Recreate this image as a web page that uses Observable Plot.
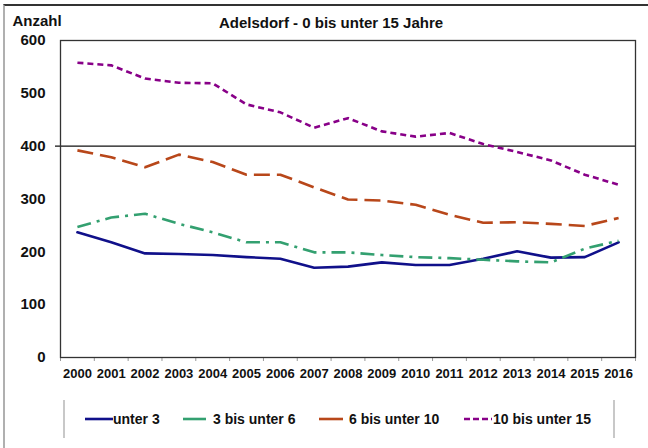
<!DOCTYPE html>
<html>
<head>
<meta charset="utf-8">
<script src="https://cdn.jsdelivr.net/npm/d3@7"></script>
<script src="https://cdn.jsdelivr.net/npm/@observablehq/plot@0.6"></script>
<style>
  html, body { margin: 0; padding: 0; background: #fff; }
  body { font-family: "Liberation Sans", Arial, sans-serif; }
  #wrap { position: relative; width: 648px; height: 448px; overflow: hidden; }
  #border { position: absolute; left: 3px; top: 4px; right: -4px; bottom: -4px;
            border-top: 2px solid #333; border-left: 2px solid #b0b0b0; }
  #chart { position: absolute; left: 0; top: 0; }
  #legend { position: absolute; left: 0; top: 385px; width: 648px; height: 63px;
            font-size: 14px; font-weight: bold; color: #111; }
  .vline { position: absolute; top: 15px; width: 2px; height: 38px; background: #c8c8c8; }
  .item { position: absolute; top: 25px; height: 18px; display: flex; align-items: center; white-space: nowrap; }
  .item svg { display: block; }
</style>
</head>
<body>
<div id="wrap">
  <div id="border"></div>
  <div id="chart"></div>
  <div id="legend"></div>
</div>
<script>
// ---- data ----
const years = [2000, 2001, 2002, 2003, 2004, 2005, 2006, 2007, 2008, 2009, 2010, 2011, 2012, 2013, 2014, 2015, 2016];
const unter3      = [237, 218, 197, 196, 194, 190, 187, 170, 172, 180, 175, 175, 187, 201, 189, 190, 218];
const bis6        = [247, 265, 272, 253, 237, 218, 218, 199, 199, 194, 190, 188, 185, 182, 180, 206, 221];
const bis10       = [392, 379, 360, 384, 370, 346, 346, 322, 299, 297, 289, 270, 255, 256, 253, 249, 264];
const bis15       = [558, 553, 528, 520, 519, 479, 464, 435, 453, 428, 418, 425, 404, 389, 373, 346, 327];
const seriesNames = ["unter 3", "3 bis unter 6", "6 bis unter 10", "10 bis unter 15"];
const seriesColors = ["#10108a", "#33a070", "#b8471a", "#880088"];
const seriesDash = [null, "14,6,3,6", "16,7", "6,4"];
const yTicks = [0, 100, 200, 300, 400, 500, 600];
const titleText = "Adelsdorf - 0 bis unter 15 Jahre";
const yLabel = "Anzahl";

const seriesValues = [unter3, bis6, bis10, bis15];
const tables = seriesValues.map((vals, i) => years.map((yr, j) => ({year: yr, value: vals[j], series: seriesNames[i]})));
const bounds = [years[0] - 0.5, ...years.map(y => y + 0.5)];
const font = "'Liberation Sans', Arial, sans-serif";

const lineMarks = tables.map((t, i) => Plot.line(t, {
  x: "year", y: "value",
  stroke: seriesColors[i], strokeWidth: 2.6,
  strokeDasharray: seriesDash[i] || undefined,
  strokeLinejoin: "round", strokeLinecap: seriesDash[i] ? "butt" : "round"
}));

const plot = Plot.plot({
  width: 648,
  height: 385,
  marginTop: 40,
  marginLeft: 60,
  marginRight: 13,
  marginBottom: 28,
  style: {fontFamily: font, background: "transparent", color: "#111"},
  x: {type: "linear", domain: [bounds[0], bounds[bounds.length - 1]], axis: null, label: null},
  y: {domain: [0, 600], axis: null, label: null},
  marks: [
    Plot.axisX({ticks: bounds, tickSize: 4, tickFormat: () => "", stroke: "#999", anchor: "bottom", label: null}),
    Plot.ruleY([400], {stroke: "#111", strokeWidth: 1.3, insetLeft: -5}),
    ...lineMarks,
    Plot.frame({stroke: "#333", strokeWidth: 1.3}),
    Plot.text(yTicks, {y: d => d, text: d => String(d), frameAnchor: "left", dx: -15, textAnchor: "end",
      fontSize: 15, fontWeight: "bold", fill: "#111"}),
    Plot.text(years, {x: d => d, text: d => String(d), frameAnchor: "bottom", lineAnchor: "top", dy: 11,
      fontSize: 13, fontWeight: "bold", fill: "#111"}),
    Plot.text([titleText], {frameAnchor: "top", dx: -17, dy: -17, lineAnchor: "middle",
      fontSize: 15, fontWeight: "bold", fill: "#111"}),
    Plot.text([yLabel], {frameAnchor: "top-left", dx: -48, dy: -19, textAnchor: "start", lineAnchor: "middle",
      fontSize: 15, fontWeight: "bold", fill: "#111"})
  ]
});
document.getElementById("chart").appendChild(plot);

// ---- legend ----
const legend = document.getElementById("legend");
const lineLeft = [85, 183, 319, 464];
const lineLen = [28, 23, 24, 28];
const legDash = [null, null, null, "6,3"];
const textGap = [0, 7, 6, 1];
const vl = document.createElement("div"); vl.className = "vline"; vl.style.left = "63px"; legend.appendChild(vl);
const vr = document.createElement("div"); vr.className = "vline"; vr.style.left = "613px"; legend.appendChild(vr);
seriesNames.forEach((name, i) => {
  const item = document.createElement("div");
  item.className = "item";
  item.style.left = lineLeft[i] + "px";
  const svg = d3.create("svg").attr("width", lineLen[i]).attr("height", 6);
  svg.append("line").attr("x1", 0).attr("x2", lineLen[i]).attr("y1", 3).attr("y2", 3)
    .attr("stroke", seriesColors[i]).attr("stroke-width", 2.6)
    .attr("stroke-dasharray", legDash[i]);
  item.appendChild(svg.node());
  const span = document.createElement("span");
  span.textContent = name;
  span.style.marginLeft = textGap[i] + "px";
  item.appendChild(span);
  legend.appendChild(item);
});
</script>
</body>
</html>
